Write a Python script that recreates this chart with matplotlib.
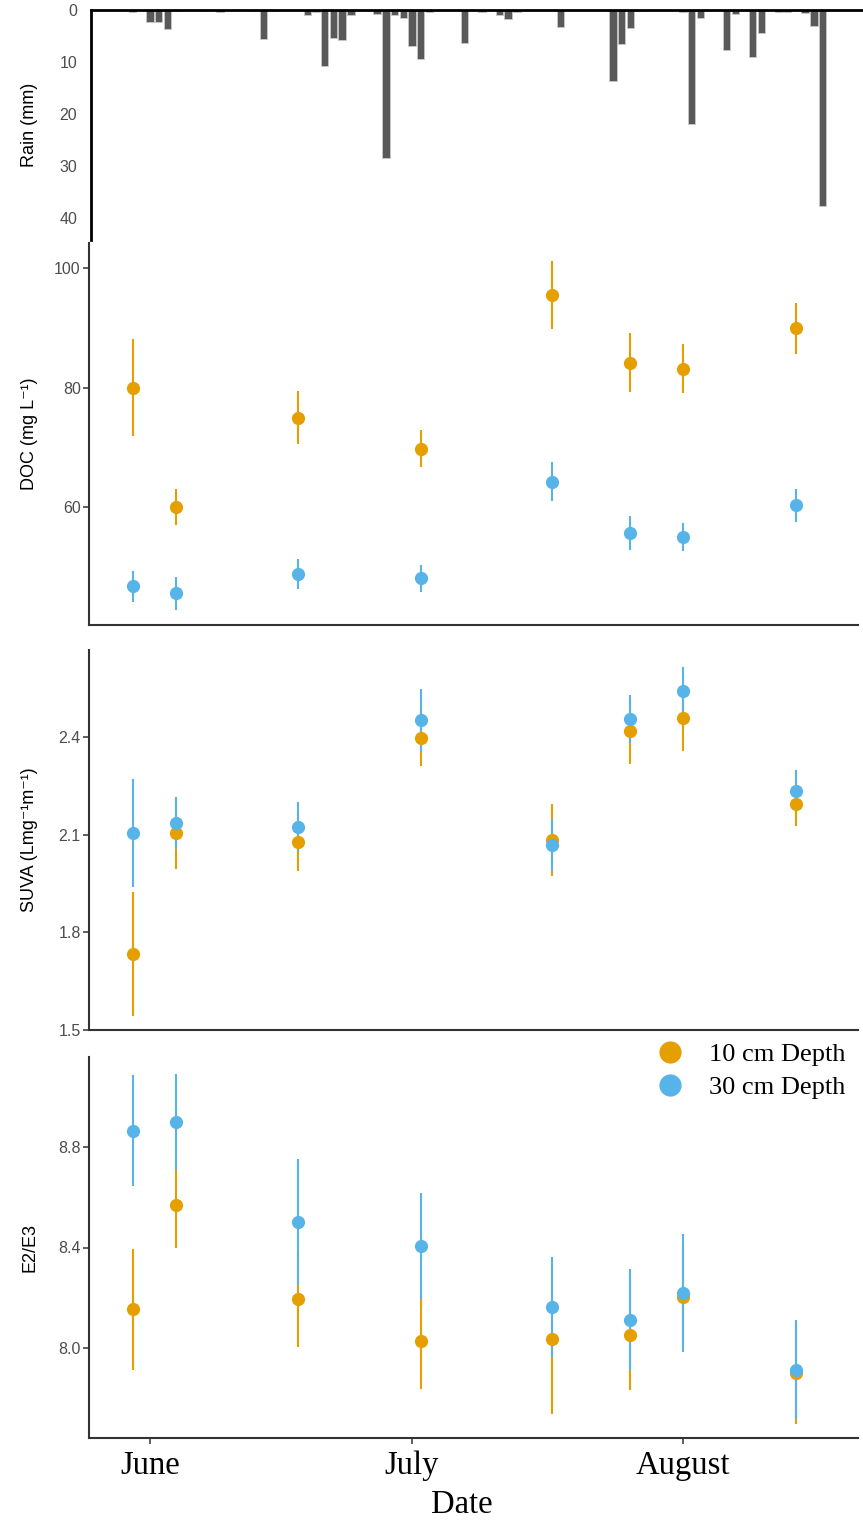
import pandas as pd
import numpy as np
import matplotlib
matplotlib.use('Agg')
import matplotlib.pyplot as plt
import matplotlib.dates as mdates
from matplotlib.lines import Line2D

plt.rcParams['font.family'] = ['Liberation Sans', 'DejaVu Sans']

# daily rainfall
rain_dates = ['2019-05-30', '2019-06-01', '2019-06-02', '2019-06-03', '2019-06-04',
              '2019-06-07', '2019-06-09', '2019-06-13', '2019-06-14', '2019-06-15',
              '2019-06-19', '2019-06-20', '2019-06-21', '2019-06-22', '2019-06-23',
              '2019-06-24', '2019-06-27', '2019-06-28', '2019-06-29', '2019-06-30',
              '2019-07-01', '2019-07-02', '2019-07-03', '2019-07-07', '2019-07-09',
              '2019-07-11', '2019-07-12', '2019-07-13', '2019-07-18', '2019-07-24',
              '2019-07-25', '2019-07-26', '2019-07-27', '2019-08-01', '2019-08-02',
              '2019-08-03', '2019-08-06', '2019-08-07', '2019-08-09', '2019-08-10',
              '2019-08-12', '2019-08-13', '2019-08-15', '2019-08-16', '2019-08-17']
rain_mm = [0.3, 2.4, 2.4, 3.6, 0.2,
           0.2, 0.4, 0.2, 5.5, 0.2,
           1.0, 0.4, 10.7, 5.3, 5.8,
           1.0, 0.7, 28.5, 1.0, 1.6,
           6.9, 9.5, 0.3, 6.4, 0.4,
           1.0, 1.8, 0.3, 3.2, 13.7,
           6.6, 3.5, 0.2, 0.3, 22.0,
           1.5, 7.7, 0.7, 9.0, 4.4,
           0.3, 0.3, 0.5, 3.0, 37.8]

# sampling dates
sample_dates = ['2019-05-30', '2019-06-04', '2019-06-18', '2019-07-02',
                '2019-07-17', '2019-07-26', '2019-08-01', '2019-08-14']

doc_10 = [80.0, 60.0, 75.0, 69.8, 95.5, 84.2, 83.2, 89.9]
doc_10_sd = [8.1, 3.0, 4.4, 3.1, 5.7, 5.0, 4.1, 4.3]
doc_30 = [46.8, 45.6, 48.9, 48.1, 64.3, 55.7, 55.0, 60.3]
doc_30_sd = [2.6, 2.8, 2.5, 2.3, 3.3, 2.9, 2.4, 2.7]

suva_10 = [1.733, 2.105, 2.078, 2.397, 2.083, 2.418, 2.458, 2.195]
suva_10_sd = [0.19, 0.11, 0.09, 0.085, 0.11, 0.10, 0.10, 0.07]
suva_30 = [2.105, 2.137, 2.123, 2.452, 2.068, 2.455, 2.541, 2.234]
suva_30_sd = [0.165, 0.08, 0.077, 0.095, 0.08, 0.075, 0.075, 0.063]

e2e3_10 = [8.155, 8.569, 8.196, 8.029, 8.037, 8.053, 8.204, 7.900]
e2e3_10_sd = [0.24, 0.17, 0.19, 0.19, 0.30, 0.22, 0.20, 0.20]
e2e3_30 = [8.864, 8.899, 8.501, 8.406, 8.164, 8.113, 8.220, 7.915]
e2e3_30_sd = [0.22, 0.19, 0.25, 0.21, 0.20, 0.20, 0.235, 0.195]

month_ticks = ['2019-06-01', '2019-07-01', '2019-08-01']
month_labels = ['June', 'July', 'August']

c10 = '#E69F00'
c30 = '#56B4E9'
tick_col = '#4d4d4d'

rd = pd.to_datetime(rain_dates)
sd = pd.to_datetime(sample_dates)
t0 = pd.Timestamp('2019-06-01')

W, H = 863, 1521
fig = plt.figure(figsize=(W / 100, H / 100), dpi=100)

def box(l, r, t, b):
    return [l / W, 1 - b / H, (r - l) / W, (b - t) / H]

px_day = 8.735
def xlims(l, r):
    return (mdates.date2num(t0) + (l - 150) / px_day,
            mdates.date2num(t0) + (r - 150) / px_day)

# rain panel (bars hang from the top)
ax_r = fig.add_axes(box(91, 863, 10, 240))
ax_r.bar(rd, rain_mm, width=0.85, color='#595959', edgecolor='#c8c8c8', linewidth=0.6)
ax_r.set_xlim(*xlims(91, 863))
ax_r.set_ylim(44.3, 0)
ax_r.set_yticks([0, 10, 20, 30, 40])
ax_r.spines['bottom'].set_visible(False)
ax_r.spines['right'].set_visible(False)
for s in ['top', 'left']:
    ax_r.spines[s].set_linewidth(2.0)
    ax_r.spines[s].set_color('black')
ax_r.tick_params(axis='x', length=0, labeltop=False, labelbottom=False)
ax_r.tick_params(axis='y', length=0, labelsize=11.5, labelcolor=tick_col, pad=10)
ax_r.set_ylabel('Rain (mm)', fontsize=13)
ax_r.yaxis.set_label_coords((38 - 91) / 772, 0.5)

panels = [
    (box(89, 858, 243, 625), doc_10, doc_10_sd, doc_30, doc_30_sd,
     (40.3, 104.2), [60, 80, 100], 'DOC (mg L⁻¹)', '{:.0f}'),
    (box(89, 858, 650, 1030), suva_10, suva_10_sd, suva_30, suva_30_sd,
     (1.5, 2.667), [1.5, 1.8, 2.1, 2.4], 'SUVA (Lmg⁻¹m⁻¹)', '{:.1f}'),
    (box(89, 858, 1057, 1438), e2e3_10, e2e3_10_sd, e2e3_30, e2e3_30_sd,
     (7.643, 9.157), [8.0, 8.4, 8.8], 'E2/E3', '{:.1f}'),
]

axes = []
for pos, m10, s10, m30, s30, ylim, yt, lab, fmt in panels:
    ax = fig.add_axes(pos)
    ax.errorbar(sd, m10, yerr=s10, fmt='o', color=c10, ms=9.5, elinewidth=1.5,
                capsize=0, mew=0)
    ax.errorbar(sd, m30, yerr=s30, fmt='o', color=c30, ms=9.5, elinewidth=1.5,
                capsize=0, mew=0)
    ax.set_xlim(*xlims(89, 858))
    ax.set_ylim(*ylim)
    ax.set_yticks(yt)
    ax.set_yticklabels([fmt.format(v) for v in yt])
    for s in ['top', 'right']:
        ax.spines[s].set_visible(False)
    for s in ['left', 'bottom']:
        ax.spines[s].set_linewidth(1.5)
        ax.spines[s].set_color('#333333')
    ax.tick_params(axis='y', length=4, width=1.1, color='#333333',
                   labelsize=11.5, labelcolor=tick_col, pad=2)
    ax.set_xticks(pd.to_datetime(month_ticks))
    ax.tick_params(axis='x', length=0, labelbottom=False)
    ax.set_ylabel(lab, fontsize=13)
    ax.yaxis.set_label_coords((38 - 89) / 769, 0.5)
    axes.append(ax)

# bottom panel gets the month labels
ax_b = axes[-1]
ax_b.set_xticklabels(month_labels)
ax_b.tick_params(axis='x', length=4, width=1.1, color='#333333', labelbottom=True,
                 labelsize=23.5, pad=5)
for t in ax_b.get_xticklabels():
    t.set_fontfamily('Liberation Serif')
    t.set_color('black')
ax_b.set_xlabel('Date', fontsize=23.5, family='Liberation Serif')
ax_b.xaxis.set_label_coords((462 - 89) / 769, -0.135)

handles = [Line2D([], [], marker='o', ls='', color=c10, ms=16, mew=0),
           Line2D([], [], marker='o', ls='', color=c30, ms=16, mew=0)]
ax_b.legend(handles, ['10 cm Depth', '30 cm Depth'], loc='upper right',
            bbox_to_anchor=(1.015, 1.1), frameon=False, handletextpad=0.5,
            labelspacing=0.35, prop={'family': 'Liberation Serif', 'size': 19})

fig.savefig('out.png', dpi=100)
